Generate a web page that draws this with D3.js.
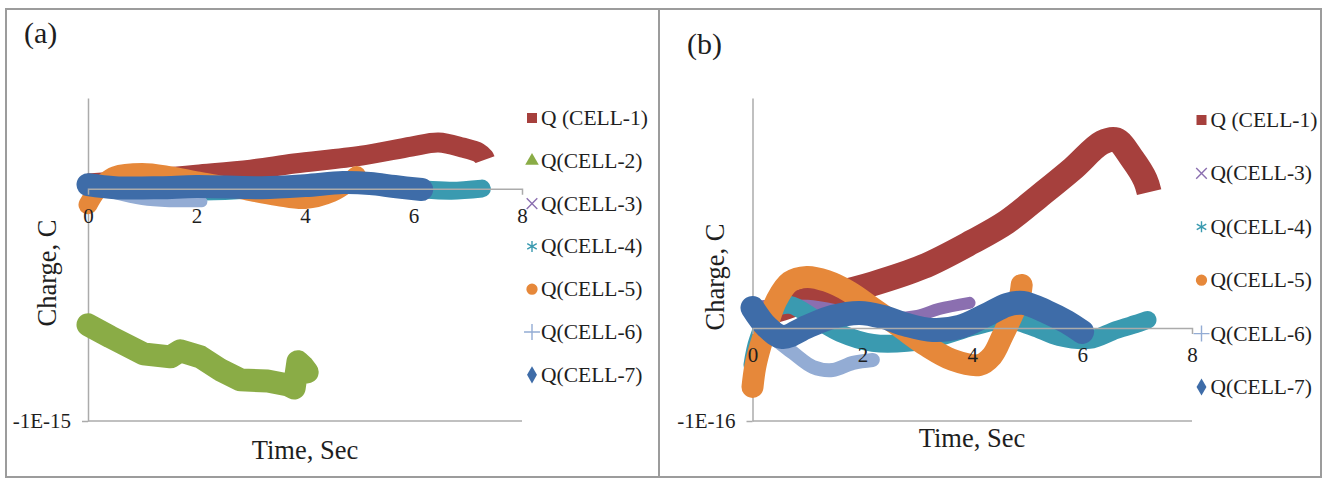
<!DOCTYPE html>
<html>
<head>
<meta charset="utf-8">
<script src="https://cdn.jsdelivr.net/npm/d3@7"></script>
<style>
  body { margin: 0; background: #fff; }
  text { font-family: "Liberation Serif", "Times New Roman", serif; fill: #1e1e1e; }
</style>
</head>
<body>
<div class="container"></div>
<script>
// time axis, sec
const timeTicks = [0, 2, 4, 6, 8];

// panel (a): charge in units of 1E-15 C, [time, charge]
const aCell1 = [[0, 0.022], [1, 0.039], [2, 0.06], [3, 0.082], [3.8, 0.108], [5.04, 0.142], [5.96, 0.181], [6.46, 0.198], [6.9, 0.177], [7.2, 0.155], [7.3, 0.134], [7.32, 0.125]];
const aCell2 = [[0, -0.586], [0.41, -0.638], [1.02, -0.711], [1.52, -0.724], [1.7, -0.698], [2.07, -0.724], [2.44, -0.78], [2.81, -0.823], [3.31, -0.828], [3.69, -0.845], [3.8, -0.858], [3.87, -0.745], [3.96, -0.765], [4.04, -0.789]];
const aCell3 = [[0, 0.017], [1, 0.004], [2, 0.004], [3, 0.013], [4, 0.026]];
const aCell4 = [[0, 0.013], [1, -0.004], [2, -0.013], [3, -0.004], [4, 0.009], [4.8, 0.034], [5.5, 0.013], [6.2, -0.004], [6.7, -0.009], [7.26, 0]];
const aCell5 = [[0, -0.069], [0.15, -0.013], [0.3, 0.026], [0.5, 0.056], [1, 0.069], [1.5, 0.056], [2, 0.034], [2.5, 0.013], [3, -0.013], [3.5, -0.034], [4, -0.047], [4.5, -0.017], [4.8, 0.026], [4.95, 0.056]];
const aCell6 = [[0, 0.013], [0.5, -0.022], [1, -0.047], [1.5, -0.056], [2.1, -0.056]];
const aCell7 = [[0, 0.017], [0.5, 0.004], [1.33, 0.004], [2, 0.009], [3.2, 0.004], [4, 0.013], [4.7, 0.026], [5.2, 0.022], [5.65, 0.009], [6.15, -0.004]];

// panel (b): charge in units of 1E-16 C, [time, charge]
const bCell1 = [[0, 0.129], [0.5, 0.204], [0.99, 0.301], [1.5, 0.366], [2.19, 0.473], [3.1, 0.656], [4.0, 0.925], [4.63, 1.14], [5.23, 1.42], [5.83, 1.71], [6.36, 1.99], [6.62, 2.02], [6.92, 1.81], [7.15, 1.59], [7.22, 1.46]];
const bCell3 = [[0, 0.226], [1, 0.237], [1.8, 0.161], [2.5, 0.108], [3.0, 0.129], [3.4, 0.204], [3.95, 0.269]];
const bCell4 = [[0, -0.398], [0.1, -0.129], [0.37, 0.194], [0.68, 0.247], [1.17, 0.086], [1.59, -0.054], [2.19, -0.161], [2.81, -0.161], [3.41, -0.097], [4.01, 0.011], [4.63, 0.086], [5.1, 0.011], [5.58, -0.097], [6.13, -0.129], [6.62, -0.022], [7.04, 0.054], [7.19, 0.086]];
const bCell5 = [[0, -0.634], [0.05, -0.419], [0.14, -0.204], [0.26, 0.011], [0.44, 0.301], [0.68, 0.495], [0.99, 0.548], [1.35, 0.505], [1.77, 0.387], [2.19, 0.215], [2.68, 0.011], [3.17, -0.194], [3.64, -0.344], [4.13, -0.398], [4.36, -0.301], [4.55, -0.086], [4.73, 0.14], [4.86, 0.323], [4.9, 0.462]];
const bCell6 = [[0, 0.14], [0.37, -0.097], [0.74, -0.269], [1.1, -0.419], [1.46, -0.452], [1.83, -0.376], [2.19, -0.344]];
const bCell7 = [[0, 0.215], [0.26, 0.011], [0.55, -0.097], [0.99, 0.011], [1.46, 0.118], [1.95, 0.161], [2.37, 0.118], [2.81, 0.032], [3.28, -0.022], [3.77, 0.011], [4.26, 0.14], [4.63, 0.247], [4.92, 0.269], [5.36, 0.172], [5.72, 0.065], [6.0, -0.043]];

const legendA = ['Q (CELL-1)', 'Q(CELL-2)', 'Q(CELL-3)', 'Q(CELL-4)', 'Q(CELL-5)', 'Q(CELL-6)', 'Q(CELL-7)'];
const legendB = ['Q (CELL-1)', 'Q(CELL-3)', 'Q(CELL-4)', 'Q(CELL-5)', 'Q(CELL-6)', 'Q(CELL-7)'];

const width = 1326;
const height = 479;
const axisColor = '#ababab';

// marker look per cell
const cellStyle = {
  1: { color: '#a6403d', sym: d3.symbolSquare, size: 100, fill: true },
  2: { color: '#8aac46', sym: d3.symbolTriangle, size: 80, fill: true },
  3: { color: '#8b6fb0', sym: d3.symbolTimes, size: 75, fill: false },
  4: { color: '#3a9ab0', sym: d3.symbolAsterisk, size: 85, fill: false },
  5: { color: '#e6883a', sym: d3.symbolCircle, size: 100, fill: true },
  6: { color: '#93acd4', sym: d3.symbolPlus, size: 85, fill: false },
  7: { color: '#3e6ca8', sym: d3.symbolDiamond, size: 85, fill: true }
};

const svg = d3.select('.container')
  .append('svg')
  .attr('width', width)
  .attr('height', height);

// outer frame and divider
svg.append('rect')
  .attr('x', 6).attr('y', 9)
  .attr('width', 1315).attr('height', 468)
  .attr('fill', 'none').attr('stroke', '#9c9c9c').attr('stroke-width', 2);
svg.append('line')
  .attr('x1', 659).attr('x2', 659).attr('y1', 9).attr('y2', 477)
  .attr('stroke', '#9c9c9c').attr('stroke-width', 2);

function drawPanel(p) {
  const x = d3.scaleLinear().domain([0, 8]).range([p.left, p.right]);
  const y = d3.scaleLinear().domain(p.yDomain).range([421, 98]);
  const g = svg.append('g');
  const yMin = p.yDomain[0];

  // line at the minimum value
  g.append('line')
    .attr('x1', x(0)).attr('x2', x(8))
    .attr('y1', y(yMin)).attr('y2', y(yMin))
    .attr('stroke', axisColor).attr('stroke-width', 1.5);

  // y axis
  const yAxis = g.append('g')
    .attr('transform', `translate(${x(0)},0)`)
    .call(d3.axisLeft(y).tickValues([yMin]).tickFormat(() => p.yTick)
      .tickSizeInner(6).tickSizeOuter(0).tickPadding(11));

  // series, drawn in legend order so later cells sit on top
  const smooth = d3.line()
    .x(d => x(d[0]))
    .y(d => y(d[1]))
    .curve(d3.curveCatmullRom.alpha(0.5));
  const jagged = d3.line()
    .x(d => x(d[0]))
    .y(d => y(d[1]));

  p.series.forEach(s => {
    const st = cellStyle[s.cell];
    g.append('path')
      .datum(s.data)
      .attr('d', s.cell === 2 ? jagged : smooth)
      .attr('fill', 'none')
      .attr('stroke', st.color)
      .attr('stroke-width', p.bands[s.cell])
      .attr('stroke-linejoin', 'round')
      .attr('stroke-linecap', s.cell === 1 ? 'butt' : 'round');
  });

  // x axis through zero
  const xAxis = g.append('g')
    .attr('transform', `translate(0,${y(0)})`)
    .call(d3.axisBottom(x).tickValues(timeTicks)
      .tickSizeInner(0).tickSizeOuter(6).tickPadding(19));

  [xAxis, yAxis].forEach(a => {
    a.attr('font-family', null).attr('font-size', 21);
    a.selectAll('.domain, line').attr('stroke', axisColor).attr('stroke-width', 1.5);
    a.selectAll('text').attr('fill', '#1e1e1e');
  });

  // legend
  p.series.forEach((s, i) => {
    const st = cellStyle[s.cell];
    const ly = p.legendY0 + i * p.legendStep;
    g.append('path')
      .attr('d', d3.symbol().type(st.sym).size(st.size))
      .attr('transform', `translate(${p.legendX},${ly})`)
      .attr('fill', st.fill ? st.color : 'none')
      .attr('stroke', st.fill ? 'none' : st.color)
      .attr('stroke-width', 1.4);
    g.append('text')
      .attr('x', p.legendX + 9)
      .attr('y', ly + 7)
      .attr('font-size', 21.5)
      .text(s.label);
  });

  // panel tag and titles
  g.append('text')
    .attr('x', p.tagX).attr('y', p.tagY)
    .attr('font-size', 30)
    .text(p.tag);

  g.append('text')
    .attr('transform', `translate(${p.yTitleX},${p.yTitleY}) rotate(-90)`)
    .attr('text-anchor', 'middle')
    .attr('font-size', 26.5)
    .text('Charge, C');

  g.append('text')
    .attr('x', p.xTitleX).attr('y', p.xTitleY)
    .attr('text-anchor', 'middle')
    .attr('font-size', 26.5)
    .text('Time, Sec');
}

drawPanel({
  left: 88, right: 522, yDomain: [-1, 0.39], yTick: '-1E-15',
  series: [aCell1, aCell2, aCell3, aCell4, aCell5, aCell6, aCell7]
    .map((d, i) => ({ cell: i + 1, data: d, label: legendA[i] })),
  bands: { 1: 20, 2: 23, 3: 10, 4: 18, 5: 19, 6: 11, 7: 23 },
  legendX: 532, legendY0: 118, legendStep: 42.8,
  tag: '(a)', tagX: 24, tagY: 43,
  yTitleX: 56, yTitleY: 273,
  xTitleX: 305, xTitleY: 459
});

drawPanel({
  left: 752.5, right: 1192, yDomain: [-1, 2.47], yTick: '-1E-16',
  series: [bCell1, bCell3, bCell4, bCell5, bCell6, bCell7]
    .map((d, i) => ({ cell: [1, 3, 4, 5, 6, 7][i], data: d, label: legendB[i] })),
  bands: { 1: 25, 3: 12, 4: 18, 5: 22, 6: 14, 7: 24 },
  legendX: 1201.5, legendY0: 120, legendStep: 53.4,
  tag: '(b)', tagX: 687, tagY: 54,
  yTitleX: 724, yTitleY: 277,
  xTitleX: 972, xTitleY: 447
});
</script>
</body>
</html>
